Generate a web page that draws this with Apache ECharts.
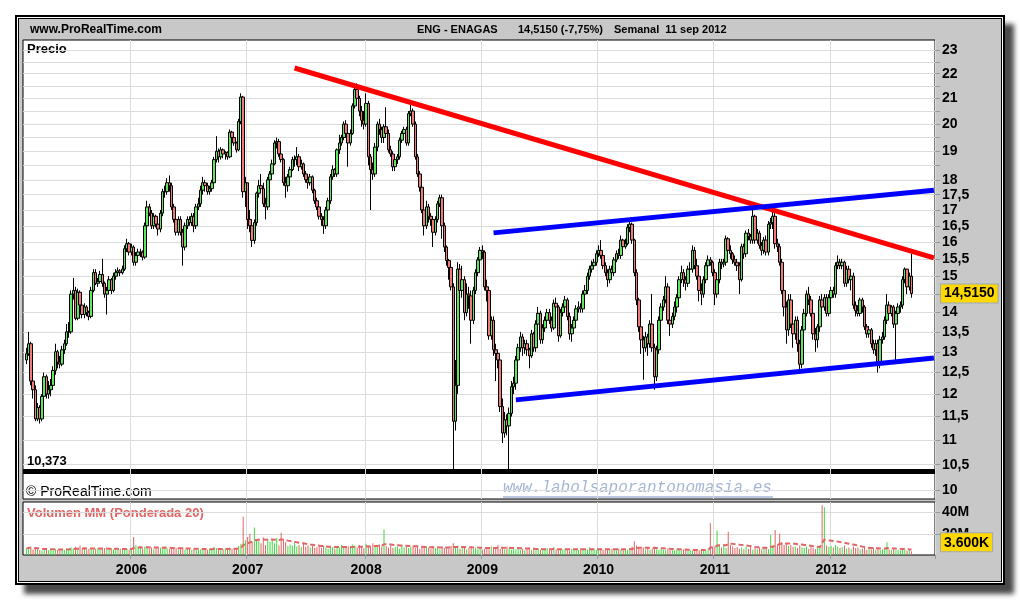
<!DOCTYPE html>
<html>
<head>
<meta charset="utf-8">
<title>ENG - ENAGAS semanal</title>
<script src="https://cdn.jsdelivr.net/npm/echarts@6/dist/echarts.min.js"></script>
<style>
  html, body { margin: 0; padding: 0; background: #fff; }
  #frame {
    position: absolute; left: 15px; top: 15px; width: 990px; height: 570px;
    box-sizing: border-box; border: 2px solid #000; background: #c8c8c8;
    box-shadow: inset 0 0 0 1px #fff, inset 0 0 0 2px #000, 9px 9px 5px #4a4a4a;
  }
  #chart { position: absolute; left: 0; top: 0; width: 1020px; height: 600px; }
</style>
</head>
<body>
<div id="frame"></div>
<div id="chart"></div>
<script>
// ENAGAS weekly candles, first week 2005-02-07, last week 2012-09-10
const firstWeek = '2005-02-07';
const leadWeeks = 1;     // empty week before the first candle
const tailWeeks = 10;    // empty weeks after the last candle
const firstOpen = 12.8;

const closes = [
  12.95, 13.2, 12.3, 12.1, 11.45, 11.7, 11.45, 11.95, 12.4, 12.0,
  12.1, 12.2, 12.55, 13.0, 12.75, 12.7, 13.05, 13.2, 13.5, 13.5,
  14.5, 14.6, 13.85, 14.55, 14.2, 13.95, 14.15, 14.0, 13.9, 14.6,
  15.1, 14.8, 14.85, 15.05, 14.8, 14.5, 14.6, 14.9, 14.6, 15.0,
  15.1, 15.15, 15.1, 15.2, 15.8, 15.95, 15.7, 15.85, 15.4, 15.6,
  15.7, 15.7, 15.55, 16.5, 17.1, 16.9, 16.5, 16.8, 16.55, 16.4,
  16.9, 17.6, 17.6, 17.9, 17.8, 17.1, 16.7, 16.3, 16.7, 16.3,
  15.85, 16.5, 16.7, 16.6, 16.8, 16.5, 17.1, 17.2, 17.65, 17.9,
  17.8, 17.6, 17.7, 17.9, 18.7, 19.0, 18.8, 19.05, 18.9, 18.95,
  18.8, 19.7, 19.5, 19.3, 19.05, 20.1, 21.05, 17.6, 17.9, 16.7,
  16.5, 16.05, 16.6, 17.55, 17.8, 17.7, 17.2, 17.1, 18.0, 18.2,
  18.55, 19.3, 19.35, 18.9, 18.7, 17.9, 17.8, 18.1, 18.35, 18.7,
  18.7, 18.8, 18.45, 18.55, 18.2, 18.0, 17.9, 18.1, 17.65, 17.3,
  17.1, 16.8, 16.7, 16.5, 17.0, 17.3, 18.1, 18.35, 18.2, 19.05,
  19.3, 19.5, 20.0, 19.65, 19.3, 19.65, 20.7, 21.35, 21.0, 20.5,
  20.15, 20.0, 20.8, 18.8, 18.35, 18.2, 19.15, 20.0, 19.8, 19.5,
  19.9, 19.65, 19.05, 18.9, 18.45, 18.7, 18.8, 19.4, 19.65, 19.8,
  19.3, 20.4, 20.5, 20.0, 18.8, 18.2, 17.75, 17.0, 16.5, 17.1,
  16.8, 16.7, 16.3, 16.7, 17.2, 17.4, 16.5, 15.85, 15.45, 15.25,
  14.7, 11.4, 12.2, 15.2, 14.6, 14.9, 14.0, 14.5, 14.45, 13.8,
  14.6, 15.1, 15.47, 15.75, 15.7, 14.7, 14.6, 13.4, 13.8, 13.05,
  12.96, 12.8, 11.72, 11.15, 11.43, 11.3, 11.57, 12.17, 12.25, 12.8,
  13.1, 13.37, 13.1, 13.2, 13.05, 12.9, 13.45, 13.1, 13.7, 13.98,
  13.3, 13.6, 13.8, 14.0, 13.8, 13.6, 14.25, 14.15, 13.4, 14.0,
  14.15, 14.34, 13.9, 13.45, 13.6, 13.8, 14.1, 14.15, 14.1, 14.5,
  14.6, 15.0, 15.2, 15.3, 15.4, 15.65, 15.75, 15.6, 15.3, 15.1,
  14.9, 15.2, 15.1, 15.47, 15.65, 15.6, 16.06, 15.86, 15.95, 16.45,
  16.55, 16.06, 15.1, 14.34, 13.63, 13.3, 13.1, 13.37, 13.2, 13.7,
  13.1, 12.4, 13.05, 13.8, 14.15, 14.34, 14.7, 13.8, 13.7, 13.9,
  14.15, 14.4, 14.9, 15.1, 14.9, 14.8, 15.2, 15.2, 15.75, 15.3,
  15.0, 14.6, 14.5, 14.9, 15.3, 15.47, 15.4, 15.1, 14.5, 14.9,
  15.4, 15.35, 15.4, 16.1, 15.75, 15.65, 15.47, 15.4, 15.3, 14.9,
  15.86, 15.65, 16.27, 16.17, 16.06, 16.8, 16.06, 16.27, 15.9, 15.75,
  16.06, 15.7, 16.55, 16.6, 16.8, 15.95, 15.86, 15.4, 14.6, 14.15,
  13.55, 14.34, 13.7, 13.45, 13.8, 13.2, 12.7, 13.55, 13.98, 14.5,
  14.34, 13.98, 13.45, 13.3, 13.63, 14.34, 14.15, 14.4, 13.98, 14.4,
  14.6, 14.5, 15.3, 15.4, 15.3, 15.4, 14.8, 15.2, 14.9, 15.0,
  14.2, 14.05, 13.98, 14.34, 14.15, 13.63, 13.45, 13.55, 13.2, 13.05,
  13.2, 12.7, 13.3, 13.37, 13.8, 14.2, 13.98, 14.15, 13.7, 13.98,
  14.15, 14.2, 14.9, 15.2, 14.7, 15.0, 14.515
];

const highs = [
  13.1, 13.5, 13.25, 12.4, 12.2, 11.8, 11.75, 12.0, 12.5, 12.45,
  12.3, 12.35, 12.65, 13.2, 13.05, 12.9, 13.15, 13.3, 13.7, 13.75,
  14.6, 14.95, 14.7, 14.65, 14.6, 14.3, 14.25, 14.2, 14.05, 14.7,
  15.2, 15.2, 14.95, 15.15, 15.5, 14.85, 14.7, 15.0, 14.95, 15.1,
  15.2, 15.25, 15.2, 15.3, 15.9, 16.1, 16.0, 15.95, 15.9, 15.7,
  15.8, 15.8, 15.75, 16.6, 17.3, 17.2, 17.0, 16.9, 16.85, 16.6,
  17.0, 17.7, 17.8, 18.05, 18.15, 17.9, 17.2, 16.9, 16.8, 16.8,
  16.4, 16.6, 16.8, 16.8, 16.9, 16.9, 17.2, 17.4, 17.8, 18.1,
  18.0, 17.9, 17.8, 18.0, 18.8, 19.55, 19.1, 19.15, 19.1, 19.0,
  19.0, 19.8, 19.75, 19.55, 19.35, 20.2, 21.2, 21.1, 18.1, 17.9,
  17.0, 16.6, 16.7, 17.6, 18.0, 18.2, 17.9, 17.4, 18.1, 18.3,
  18.7, 19.4, 19.5, 19.45, 19.0, 18.75, 18.1, 18.2, 18.45, 18.8,
  18.85, 19.15, 18.9, 18.7, 18.6, 18.3, 18.1, 18.2, 18.15, 17.7,
  17.4, 17.2, 16.9, 16.8, 17.1, 17.4, 18.2, 18.5, 18.4, 19.1,
  19.6, 19.6, 20.1, 20.15, 19.8, 19.8, 20.8, 21.5, 21.6, 21.1,
  20.7, 20.5, 21.2, 20.9, 18.9, 18.6, 19.3, 20.1, 20.2, 19.9,
  20.0, 20.65, 19.8, 19.2, 19.0, 18.8, 18.9, 19.5, 19.75, 19.9,
  19.9, 20.5, 20.85, 20.6, 20.1, 18.9, 18.3, 17.9, 17.1, 17.3,
  17.2, 16.9, 16.8, 16.8, 17.3, 17.5, 17.5, 16.6, 15.9, 15.5,
  15.3, 14.8, 12.8, 15.4, 15.35, 15.3, 15.0, 14.8, 14.7, 14.6,
  14.7, 15.2, 15.55, 15.85, 15.9, 15.75, 14.9, 14.7, 13.9, 13.9,
  13.2, 13.0, 12.85, 11.9, 11.6, 11.55, 11.7, 12.3, 12.4, 12.9,
  13.2, 13.5, 13.45, 13.3, 13.3, 13.1, 13.55, 13.5, 13.8, 14.15,
  14.05, 13.7, 13.9, 14.1, 14.1, 13.9, 14.35, 14.4, 14.2, 14.1,
  14.25, 14.45, 14.4, 14.0, 13.7, 13.9, 14.2, 14.3, 14.25, 14.6,
  14.75, 15.1, 15.3, 15.45, 15.5, 15.75, 15.9, 16.06, 15.7, 15.4,
  15.2, 15.3, 15.3, 15.55, 15.75, 15.8, 16.2, 16.1, 16.1, 16.55,
  16.7, 16.6, 16.1, 15.2, 14.4, 13.7, 13.4, 13.5, 13.45, 13.8,
  14.5, 13.2, 13.15, 13.9, 14.25, 14.45, 15.0, 14.8, 13.9, 14.0,
  14.3, 14.5, 15.0, 15.3, 15.2, 15.0, 15.3, 15.4, 15.9, 15.85,
  15.5, 15.1, 14.8, 15.0, 15.4, 15.6, 15.55, 15.45, 15.2, 15.0,
  15.5, 15.5, 15.5, 16.2, 16.15, 15.9, 15.7, 15.6, 15.5, 15.4,
  15.95, 15.95, 16.35, 16.4, 16.25, 17.0, 16.85, 16.4, 16.35, 16.0,
  16.15, 16.2, 16.65, 16.75, 17.0, 16.9, 16.1, 15.95, 15.5, 14.8,
  14.3, 14.5, 14.5, 13.9, 13.9, 13.9, 13.3, 13.65, 14.1, 14.6,
  14.7, 14.45, 14.1, 13.6, 13.7, 14.45, 14.5, 14.5, 14.5, 14.5,
  14.7, 14.7, 15.4, 15.6, 15.5, 15.5, 15.45, 15.3, 15.3, 15.1,
  15.1, 14.3, 14.2, 14.4, 14.4, 14.2, 13.7, 13.65, 13.6, 13.3,
  13.3, 13.3, 13.4, 13.5, 13.9, 14.5, 14.3, 14.2, 14.2, 14.05,
  14.25, 14.3, 15.0, 15.25, 15.2, 15.1, 15.65
];

const lows = [
  12.7, 12.9, 12.2, 11.9, 11.4, 11.4, 11.35, 11.4, 11.9, 11.9,
  11.9, 11.95, 12.1, 12.45, 12.6, 12.6, 12.65, 12.95, 13.15, 13.35,
  13.45, 14.35, 13.8, 13.8, 14.1, 13.85, 13.85, 13.9, 13.8, 13.85,
  14.55, 14.75, 14.7, 14.8, 14.7, 14.4, 13.95, 14.5, 14.5, 14.55,
  14.9, 15.0, 15.0, 15.05, 15.15, 15.7, 15.6, 15.6, 15.3, 15.3,
  15.5, 15.55, 15.45, 15.5, 16.4, 16.8, 16.4, 16.4, 16.45, 16.2,
  16.3, 16.8, 17.4, 17.5, 17.6, 17.0, 16.6, 16.2, 16.2, 16.2,
  15.3, 15.75, 16.4, 16.5, 16.5, 16.3, 16.4, 17.0, 17.1, 17.5,
  17.6, 17.5, 17.5, 17.6, 17.8, 18.6, 18.6, 18.7, 18.75, 18.7,
  18.7, 18.75, 19.4, 19.2, 18.95, 19.0, 20.0, 17.4, 17.1, 16.4,
  16.3, 15.85, 15.95, 16.5, 17.4, 17.6, 17.1, 16.7, 17.0, 17.9,
  18.1, 18.5, 19.1, 18.8, 18.6, 17.8, 17.4, 17.6, 18.0, 18.3,
  18.45, 18.5, 18.3, 18.35, 18.1, 17.9, 17.7, 17.8, 17.55, 17.2,
  17.0, 16.7, 16.5, 16.25, 16.4, 16.9, 17.2, 18.0, 18.1, 18.1,
  18.9, 19.2, 19.4, 19.5, 18.45, 19.2, 19.6, 20.6, 20.8, 20.3,
  19.9, 19.8, 19.9, 18.5, 17.0, 18.0, 18.1, 19.0, 19.6, 19.3,
  19.3, 19.5, 18.95, 18.8, 18.3, 18.3, 18.55, 18.7, 19.3, 19.5,
  19.2, 19.2, 20.3, 19.9, 18.7, 18.1, 17.6, 16.9, 16.2, 16.4,
  16.6, 16.5, 15.85, 16.2, 16.6, 17.1, 16.1, 15.7, 15.3, 14.9,
  14.6, 10.373, 11.2, 12.0, 14.4, 14.4, 13.8, 13.9, 14.1, 13.2,
  13.7, 14.5, 15.0, 15.4, 15.5, 14.6, 14.3, 13.3, 13.3, 12.9,
  12.3, 12.6, 11.6, 10.94, 11.05, 11.1, 10.373, 11.5, 12.0, 12.1,
  12.7, 13.0, 12.9, 12.95, 12.9, 12.6, 12.85, 13.0, 13.0, 13.6,
  13.2, 13.2, 13.5, 13.7, 13.7, 13.5, 13.55, 14.0, 13.25, 13.35,
  13.9, 14.05, 13.8, 13.3, 13.25, 13.5, 13.7, 14.0, 14.0, 14.0,
  14.4, 14.5, 14.9, 15.1, 15.2, 15.3, 15.55, 15.5, 15.2, 15.0,
  14.7, 14.8, 15.0, 15.0, 15.4, 15.5, 15.5, 15.8, 15.8, 15.9,
  16.3, 15.95, 15.0, 14.2, 13.5, 12.95, 12.33, 13.0, 12.9, 13.1,
  13.0, 12.1, 12.3, 12.95, 13.7, 14.05, 14.25, 13.7, 13.4, 13.6,
  13.8, 14.0, 14.3, 14.8, 14.7, 14.6, 14.7, 15.0, 15.1, 15.2,
  14.9, 14.3, 14.2, 14.4, 14.8, 15.2, 15.3, 15.0, 14.2, 14.4,
  14.8, 15.2, 15.25, 15.3, 15.6, 15.5, 15.35, 15.3, 15.15, 14.5,
  14.85, 15.5, 15.55, 16.05, 15.95, 15.95, 15.95, 15.95, 15.8, 15.6,
  15.65, 15.6, 15.6, 16.4, 16.4, 15.8, 15.7, 15.3, 14.5, 13.9,
  13.2, 13.4, 13.6, 13.1, 13.3, 13.0, 12.5, 12.6, 13.4, 13.9,
  14.2, 13.9, 13.3, 13.0, 13.1, 13.5, 14.0, 14.05, 13.9, 13.9,
  14.3, 14.4, 14.4, 15.2, 15.2, 15.2, 14.7, 14.7, 14.8, 14.6,
  14.1, 13.9, 13.9, 13.9, 14.0, 13.55, 13.35, 13.35, 13.1, 12.95,
  12.9, 12.5, 12.6, 13.2, 13.3, 13.7, 13.9, 13.9, 13.6, 12.75,
  13.9, 14.0, 14.1, 14.8, 14.5, 14.6, 14.4
];

// weekly volume, millions of shares
const volumes = [
  6.0, 7.5, 7.0, 5.3, 6.7, 5.5, 4.7, 4.0, 5.9, 5.1,
  4.6, 5.1, 4.3, 5.7, 4.8, 5.1, 5.4, 4.9, 6.5, 6.1,
  7.0, 6.4, 7.7, 6.3, 8.9, 5.7, 6.8, 5.1, 5.6, 6.5,
  5.2, 6.0, 6.4, 5.4, 5.9, 6.6, 5.1, 5.5, 6.3, 5.1,
  5.7, 5.3, 5.9, 4.8, 6.1, 5.6, 4.9, 5.4, 17.0, 9.5,
  7.5, 8.2, 6.1, 7.8, 6.5, 5.9, 7.0, 5.4, 6.3, 7.1,
  6.8, 5.9, 7.6, 6.2, 5.6, 6.4, 5.8, 6.7, 5.3, 6.0,
  7.2, 5.1, 6.3, 5.6, 4.9, 5.8, 5.2, 4.8, 5.5, 4.6,
  5.7, 4.9, 6.1, 5.0, 7.8, 6.5, 5.4, 4.9, 5.6, 6.2,
  5.3, 7.0, 5.8, 6.5, 5.6, 8.5, 10.5, 36.0, 14.0, 17.0,
  20.0, 12.0, 26.0, 15.0, 13.0, 11.0, 16.5, 9.5, 15.0, 12.5,
  14.0, 11.0, 16.0, 9.0, 21.0, 14.5, 12.0, 8.5, 10.0, 9.0,
  11.5, 8.0, 9.5, 7.5, 10.5, 8.0, 9.0, 7.0, 8.5, 6.5,
  7.5, 8.0, 6.5, 9.0, 7.0, 6.0, 8.5, 7.5, 6.0, 8.0,
  7.0, 9.5, 6.5, 7.5, 8.0, 6.5, 10.0, 8.5, 7.0, 9.5,
  7.5, 6.5, 10.5, 9.0, 7.5, 11.0, 8.5, 9.5, 10.0, 8.0,
  24.0, 8.5, 7.0, 9.0, 6.5, 7.5, 8.0, 6.0, 9.5, 7.0,
  8.0, 6.5, 7.5, 9.0, 7.0, 8.5, 6.0, 7.5, 6.5, 8.0,
  7.0, 6.0, 8.5, 6.5, 7.0, 5.5, 8.0, 6.5, 7.5, 6.0,
  8.5, 11.0, 7.5, 9.0, 6.0, 7.0, 8.0, 5.5, 6.5, 7.5,
  6.0, 7.0, 5.5, 6.5, 5.0, 6.0, 7.5, 5.5, 8.0, 6.5,
  7.0, 9.5, 6.0, 7.5, 5.5, 8.0, 6.5, 5.0, 6.0, 5.5,
  6.5, 5.0, 6.0, 4.5, 5.5, 7.0, 4.8, 5.6, 4.5, 6.2,
  5.0, 4.4, 5.8, 6.5, 5.2, 4.6, 7.5, 5.3, 4.8, 5.6,
  4.9, 6.0, 5.2, 4.3, 5.7, 4.7, 5.9, 4.6, 6.4, 5.1,
  4.8, 5.5, 7.2, 5.0, 6.1, 4.7, 5.4, 6.3, 5.0, 4.5,
  5.6, 4.9, 6.0, 5.2, 4.4, 5.8, 4.8, 6.2, 5.0, 5.3,
  6.5, 8.0, 13.0, 9.0, 7.5, 6.0, 7.0, 5.5, 6.5, 5.0,
  6.0, 7.5, 5.5, 4.8, 6.2, 5.0, 4.5, 5.8, 4.6, 5.2,
  4.4, 5.5, 4.8, 4.2, 5.1, 4.6, 3.9, 4.7, 4.3, 4.9,
  5.3, 4.5, 4.1, 5.0, 4.4, 5.2, 30.0, 7.5, 8.0, 23.0,
  9.0, 7.0, 8.5, 6.5, 22.0, 9.5, 8.0, 6.5, 7.5, 6.0,
  7.0, 5.5, 8.0, 6.0, 7.5, 5.0, 6.5, 5.5, 7.0, 5.5,
  6.5, 7.5, 5.5, 19.0, 8.0, 23.5, 9.0, 20.0, 12.0, 9.5,
  11.0, 8.5, 9.5, 7.5, 8.0, 6.5, 9.0, 7.0, 6.5, 8.0,
  6.0, 7.5, 6.5, 5.5, 7.0, 8.0, 47.0, 45.0, 9.0, 7.5,
  8.5, 7.0, 9.5, 8.0, 6.5, 7.5, 9.0, 6.0, 7.0, 5.5,
  8.0, 6.5, 7.0, 5.5, 6.0, 7.5, 5.0, 6.5, 5.5, 7.0,
  5.0, 6.5, 4.8, 5.5, 6.0, 12.0, 5.2, 4.6, 5.8, 4.4,
  5.0, 4.2, 5.5, 4.6, 3.9, 4.5, 3.6
];

// price scale (logarithmic): gridline steps and labelled values
const priceMin = 9.84, priceMax = 23.45;
const priceTicks = [10, 10.5, 11, 11.5, 12, 12.5, 13, 13.5, 14, 14.5, 15, 15.5, 16, 16.5,
  17, 17.5, 18, 18.5, 19, 19.5, 20, 20.5, 21, 21.5, 22, 22.5, 23];
const priceLabels = [10, 10.5, 11, 11.5, 12, 12.5, 13, 13.5, 14, 14.5, 15, 15.5, 16, 16.5,
  17, 17.5, 18, 19, 20, 21, 22, 23];
const volumeMax = 50;
const volumeLabels = [20, 40];
const maPeriod = 20;

// support level and trend lines: [week, price]
const floorLevel = 10.373;
const resistance = [['2007-05-28', 22.24], ['2012-11-19', 15.53]];
const channelTop = [['2009-02-09', 16.28], ['2012-11-19', 17.65]];
const channelBottom = [['2009-04-20', 11.87], ['2012-11-19', 12.85]];

// ---------------------------------------------------------------------
const L = Math.log10;
const DAY = 86400000;
const p0 = firstWeek.split('-').map(Number);
const t0 = Date.UTC(p0[0], p0[1] - 1, p0[2]) - leadWeeks * 7 * DAY;
const weeks = [];
for (let k = 0; k < leadWeeks + closes.length + tailWeeks; k++) {
  weeks.push(new Date(t0 + k * 7 * DAY).toISOString().slice(0, 10));
}
const yearStart = new Set();
for (let k = 1; k < weeks.length; k++) {
  if (weeks[k].slice(0, 4) !== weeks[k - 1].slice(0, 4)) yearStart.add(k);
}
const isYear = (idx) => yearStart.has(idx);

const opens = closes.map((c, i) => (i ? closes[i - 1] : firstOpen));
const candles = closes.map((c, i) => [i + leadWeeks, L(opens[i]), L(c), L(lows[i]), L(highs[i])]);

const UP = '#5ee65e', DOWN = '#f07a7a';
const volUp = '#3fd83f', volDown = '#e06464';
const volumeBars = volumes.map((v, i) => ({
  value: [i + leadWeeks, v],
  itemStyle: { color: closes[i] >= opens[i] ? volUp : volDown }
}));
// weighted moving average of the volume
const volumeMA = volumes.map((v, i) => {
  let s = 0, w = 0;
  for (let j = 0; j < maPeriod && i - j >= 0; j++) { s += (maPeriod - j) * volumes[i - j]; w += maPeriod - j; }
  return [i + leadWeeks, s / w];
});

const toLine = (pts) => pts.map(([d, p]) => [weeks.indexOf(d), L(p)]);
const comma = (n, d) => n.toFixed(d).replace('.', ',');
const fmtPrice = (v) => {
  const p = Math.round(Math.pow(10, v) * 10) / 10;
  return Number.isInteger(p) ? String(p) : comma(p, 1);
};
const lastClose = closes[closes.length - 1];
const lastVolume = volumes[volumes.length - 1];

const FONT = 'Liberation Sans';
const axisTickStyle = { color: '#8b9cab', width: 1 };
const gridLine = { color: '#dcdcdc', width: 1 };
const tagLabel = {
  color: '#000', fontWeight: 'bold', fontSize: 14, fontFamily: FONT, margin: 6,
  backgroundColor: '#ffd800', borderColor: '#9aaab8', borderWidth: 1, padding: [3, 3, 1, 3]
};
const hiddenAxisParts = { axisLine: { show: false }, axisTick: { show: false }, splitLine: { show: false } };
const headerText = (x, text, size) => ({
  type: 'text', x, y: 30, silent: true,
  style: { text, font: 'bold ' + size + 'px "Liberation Sans"', fill: '#000', textVerticalAlign: 'middle', verticalAlign: 'middle' }
});

const chart = echarts.init(document.getElementById('chart'), null, { renderer: 'canvas' });
chart.setOption({
  animation: false,
  backgroundColor: 'transparent',
  grid: [
    { left: 23, top: 40, width: 912, height: 459, show: true, backgroundColor: '#fff', borderColor: '#000', borderWidth: 1 },
    { left: 23, top: 502, width: 912, height: 53, show: true, backgroundColor: '#fff', borderColor: '#000', borderWidth: 1 }
  ],
  xAxis: [
    {
      type: 'category', gridIndex: 0, data: weeks, boundaryGap: true,
      axisLine: { show: false }, axisTick: { show: false }, axisLabel: { show: false },
      splitLine: { show: true, interval: isYear, lineStyle: gridLine }
    },
    {
      type: 'category', gridIndex: 1, data: weeks, boundaryGap: true,
      axisLine: { show: false },
      axisTick: { show: true, interval: isYear, length: 4, lineStyle: axisTickStyle },
      axisLabel: {
        show: true, interval: isYear, formatter: (v) => v.slice(0, 4),
        color: '#000', fontWeight: 'bold', fontSize: 14, fontFamily: FONT, margin: 8
      },
      splitLine: { show: true, interval: isYear, lineStyle: gridLine }
    }
  ],
  yAxis: [
    {
      type: 'value', gridIndex: 0, position: 'right', min: L(priceMin), max: L(priceMax),
      axisLine: { show: false },
      axisTick: { show: true, customValues: priceTicks.map(L), length: 5, lineStyle: axisTickStyle },
      axisLabel: {
        customValues: priceLabels.map(L), formatter: fmtPrice,
        color: '#000', fontWeight: 'bold', fontSize: 14, fontFamily: FONT, margin: 7
      },
      splitLine: { show: true, lineStyle: gridLine }
    },
    {
      type: 'value', gridIndex: 1, position: 'right', min: 0, max: volumeMax,
      axisLine: { show: false },
      axisTick: { show: true, customValues: volumeLabels, length: 5, lineStyle: axisTickStyle },
      axisLabel: {
        customValues: volumeLabels, formatter: (v) => v + 'M',
        color: '#000', fontWeight: 'bold', fontSize: 14, fontFamily: FONT, margin: 7
      },
      splitLine: { show: true, lineStyle: gridLine }
    },
    {
      // last close tag
      type: 'value', gridIndex: 0, position: 'right', min: L(priceMin), max: L(priceMax), z: 10,
      ...hiddenAxisParts,
      axisLabel: Object.assign({ customValues: [L(lastClose)], formatter: () => comma(lastClose, 4) }, tagLabel)
    },
    {
      // last volume tag (thousands)
      type: 'value', gridIndex: 1, position: 'right', min: 0, max: volumeMax, z: 10,
      ...hiddenAxisParts,
      axisLabel: Object.assign({ customValues: [lastVolume], formatter: () => lastVolume.toFixed(3) + 'K', verticalAlign: 'bottom' }, tagLabel)
    },
    {
      // lowest close of the period: thick support line with its value
      type: 'value', gridIndex: 0, position: 'left', min: L(priceMin), max: L(priceMax),
      axisLine: { show: false },
      axisTick: { show: false, customValues: [L(floorLevel)] },
      splitLine: { show: true, lineStyle: { color: '#000', width: 5 } },
      axisLabel: {
        inside: true, customValues: [L(floorLevel)], formatter: () => comma(floorLevel, 3),
        verticalAlign: 'bottom', padding: [0, 0, 3, 0], margin: 4,
        color: '#000', fontWeight: 'bold', fontSize: 13, fontFamily: FONT
      }
    }
  ],
  series: [
    {
      name: 'Precio', type: 'candlestick', xAxisIndex: 0, yAxisIndex: 0,
      data: candles, encode: { x: 0, y: [1, 2, 3, 4] },
      barWidth: 3,
      itemStyle: { color: UP, color0: DOWN, borderColor: '#000', borderColor0: '#000', borderWidth: 1 }
    },
    {
      name: 'Resistencia', type: 'line', xAxisIndex: 0, yAxisIndex: 0,
      data: toLine(resistance), showSymbol: false, silent: true, z: 5,
      lineStyle: { color: '#ff0000', width: 5 }
    },
    {
      name: 'Canal superior', type: 'line', xAxisIndex: 0, yAxisIndex: 0,
      data: toLine(channelTop), showSymbol: false, silent: true, z: 5,
      lineStyle: { color: '#0000ff', width: 5 }
    },
    {
      name: 'Canal inferior', type: 'line', xAxisIndex: 0, yAxisIndex: 0,
      data: toLine(channelBottom), showSymbol: false, silent: true, z: 5,
      lineStyle: { color: '#0000ff', width: 5 }
    },
    {
      name: 'Volumen', type: 'bar', xAxisIndex: 1, yAxisIndex: 1,
      data: volumeBars, barWidth: 1, barGap: '-100%'
    },
    {
      name: 'Volumen MM (Ponderada 20)', type: 'line', xAxisIndex: 1, yAxisIndex: 1,
      data: volumeMA, showSymbol: false, silent: true, z: 4,
      lineStyle: { color: '#e06464', width: 2, type: [5, 3] }
    }
  ],
  graphic: [
    headerText(30, 'www.ProRealTime.com', 12),
    headerText(417, 'ENG - ENAGAS', 11),
    headerText(518, '14,5150 (-7,75%)', 11),
    headerText(614, 'Semanal  11 sep 2012', 11),
    { type: 'text', x: 27, y: 49, silent: true,
      style: { text: 'Precio', font: 'bold 13px "Liberation Sans"', fill: '#000', textVerticalAlign: 'middle', verticalAlign: 'middle' } },
    { type: 'text', x: 26, y: 492, silent: true,
      style: { text: '\u00a9 ProRealTime.com', font: '14px "Liberation Sans"', fill: '#000', textVerticalAlign: 'middle', verticalAlign: 'middle' } },
    { type: 'text', x: 503, y: 488, silent: true,
      style: { text: 'www.labolsaporantonomasia.es', font: 'italic 16px "Liberation Mono"', fill: '#a3b6d4', textVerticalAlign: 'middle', verticalAlign: 'middle' } },
    { type: 'line', silent: true, shape: { x1: 503, y1: 497, x2: 773, y2: 497 },
      style: { stroke: '#a3b6d4', lineWidth: 1.5 } },
    { type: 'text', x: 27, y: 513, silent: true,
      style: { text: 'Volumen MM (Ponderada 20)', font: 'bold 13px "Liberation Sans"', fill: '#e06464', textVerticalAlign: 'middle', verticalAlign: 'middle' } }
  ]
});
</script>
</body>
</html>
